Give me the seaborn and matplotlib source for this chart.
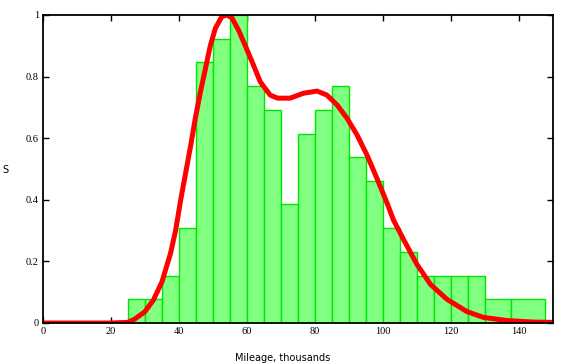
import matplotlib
matplotlib.use("Agg")
import matplotlib.pyplot as plt
import seaborn as sns

# ---- data ----
bin_edges = [25, 30, 35, 40, 45, 50, 55, 60, 65, 70, 75, 80, 85, 90, 95, 100,
             105, 110, 115, 120, 125, 130, 137.5, 147.5]
bar_heights = [0.077, 0.077, 0.154, 0.308, 0.846, 0.923, 1.0, 0.769, 0.692,
               0.385, 0.615, 0.692, 0.769, 0.538, 0.462, 0.308, 0.231, 0.154,
               0.154, 0.154, 0.154, 0.077, 0.077]

curve_x = [0, 10, 20, 25, 27, 30, 32.5, 35, 37.5, 39, 40.5, 42, 43.5, 44.8,
           46.3, 47.7, 49.2, 50.7, 52.6, 54.1, 55.6, 57.5, 59.5, 61.5, 63.9,
           66.8, 69, 72.7, 76.6, 80.6, 83.5, 86.5, 89.4, 92.4, 95.3, 98.2,
           101.2, 103.1, 106.1, 110, 114, 118.8, 121, 124.7, 129.6, 136.5,
           144.3, 150]
curve_y = [0, 0, 0, 0.002, 0.013, 0.037, 0.075, 0.134, 0.226, 0.30, 0.40,
           0.49, 0.58, 0.665, 0.75, 0.822, 0.90, 0.957, 0.995, 1.0, 0.99,
           0.951, 0.90, 0.848, 0.783, 0.74, 0.73, 0.73, 0.746, 0.753, 0.74,
           0.708, 0.665, 0.61, 0.545, 0.47, 0.389, 0.334, 0.27, 0.19, 0.125,
           0.077, 0.062, 0.037, 0.018, 0.008, 0.003, 0.002]

x_ticks = [0, 20, 40, 60, 80, 100, 120, 140]
y_ticks = [0, 0.2, 0.4, 0.6, 0.8, 1.0]
y_tick_labels = ["0", "0.2", "0.4", "0.6", "0.8", "1"]

# ---- plotting ----
sns.set_style("white")
plt.rcParams['font.family'] = ['DejaVu Sans']
plt.rcParams['text.color'] = 'black'
plt.rcParams['xtick.color'] = 'black'
plt.rcParams['ytick.color'] = 'black'

fig = plt.figure(figsize=(5.75, 3.64), dpi=100)
ax = fig.add_axes([43/575, 1-323/364, (553-43)/575, (323-15)/364])

sns.histplot(x=bin_edges[:-1], weights=bar_heights, bins=bin_edges, ax=ax,
             color="#80ff80", edgecolor="#00e600", linewidth=1.0, alpha=1.0,
             stat="count")
sns.lineplot(x=curve_x, y=curve_y, ax=ax, color="#ff0000", linewidth=3.6,
             sort=False, legend=False)

ax.set_xlim(0, 150)
ax.set_ylim(0, 1)
ax.set_xticks(x_ticks)
ax.set_xticklabels([str(t) for t in x_ticks])
ax.set_yticks(y_ticks)
ax.set_yticklabels(y_tick_labels)
ax.set_xlabel("")
ax.set_ylabel("")

for s in ax.spines.values():
    s.set_visible(True)
    s.set_color("black")
    s.set_linewidth(1.3)

ax.tick_params(axis="both", which="major", direction="in", length=4,
               width=1.0, color="black", labelcolor="black", top=True,
               right=True, bottom=True, left=True)
ax.tick_params(axis="x", pad=3)
ax.tick_params(axis="y", pad=3)
for lab in ax.get_xticklabels() + ax.get_yticklabels():
    lab.set_family("Liberation Serif")
    lab.set_fontsize(7.5)
    lab.set_color("black")

fig.text(283/575, 1-358/364, "Mileage, thousands", ha="center", va="center",
         fontsize=7, color="black")
fig.text(2/575, 1-170/364, "S", ha="left", va="center", fontsize=7,
         color="black")

fig.savefig("out.png", dpi=100)
